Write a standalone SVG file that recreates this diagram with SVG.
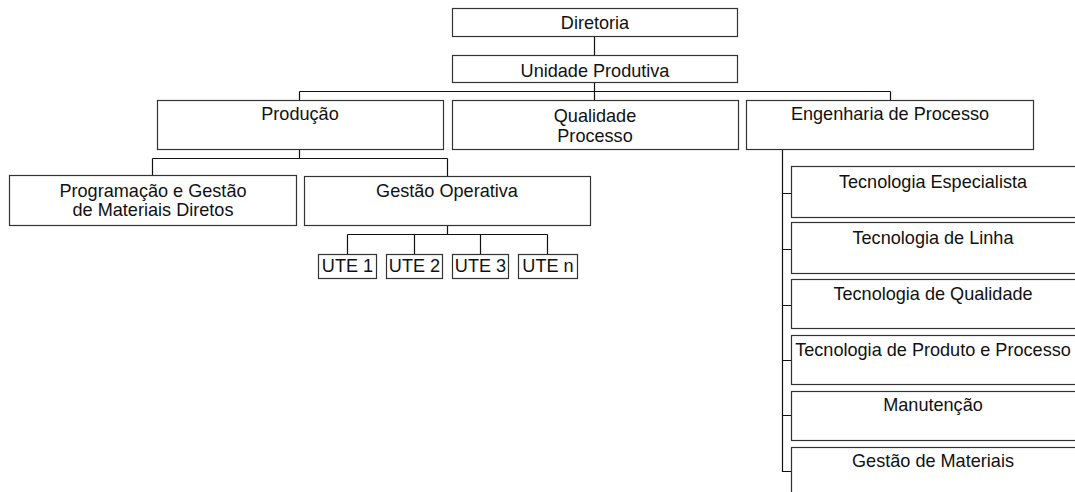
<svg xmlns="http://www.w3.org/2000/svg" width="1075" height="492" viewBox="0 0 1075 492">
<style>
.box{fill:#fff;stroke:#333;stroke-width:1.2}
.t{font-family:"Liberation Sans",Arial,sans-serif;font-size:18.1px;fill:#111;text-anchor:middle}
.c{fill:none;stroke:#111;stroke-width:1.2}
</style>
<rect width="1075" height="492" fill="#fff"/>
<g id="connectors">
<path class="c" d="M594.5 36V55M594.5 82V91.5M299.5 91.5H890.5M299.5 91.5V100M594.5 91.5V100M890.5 91.5V100"/>
<path class="c" d="M299.5 149V158.5M152.5 158.5H447.5M152.5 158.5V175M447.5 158.5V176"/>
<path class="c" d="M447.5 225V234.5M347.5 234.5H547.5M347.5 234.5V254M414.5 234.5V254M480.5 234.5V254M547.5 234.5V254"/>
<path class="c" d="M782.5 149V472M782.5 193.5H791M782.5 249.5H791M782.5 305.5H791M782.5 360.5H791M782.5 415.5H791M782.5 471.5H791"/>
</g>
<g id="diretoria"><rect class="box" x="452.5" y="8.5" width="285" height="28"/><text class="t" x="595" y="29">Diretoria</text></g>
<g id="unidade"><rect class="box" x="452.5" y="55.5" width="285" height="27"/><text class="t" x="595" y="77">Unidade Produtiva</text></g>
<g id="producao"><rect class="box" x="157.5" y="100.5" width="286" height="49"/><text class="t" x="300" y="120">Produção</text></g>
<g id="qualidade"><rect class="box" x="452.5" y="100.5" width="286" height="49"/><text class="t" x="595" y="121.5">Qualidade</text><text class="t" x="595" y="141.5">Processo</text></g>
<g id="engenharia"><rect class="box" x="746.5" y="100.5" width="287" height="49"/><text class="t" x="890" y="120">Engenharia de Processo</text></g>
<g id="programacao"><rect class="box" x="9.5" y="175.5" width="287" height="50"/><text class="t" x="153" y="196.5">Programação e Gestão</text><text class="t" x="153" y="215.5">de Materiais Diretos</text></g>
<g id="gestao-operativa"><rect class="box" x="304.5" y="176.5" width="286" height="49"/><text class="t" x="447" y="196.5">Gestão Operativa</text></g>
<g id="ute1"><rect class="box" x="318.5" y="254.5" width="58" height="24"/><text class="t" x="347.5" y="271.5">UTE 1</text></g>
<g id="ute2"><rect class="box" x="386.5" y="254.5" width="56" height="24"/><text class="t" x="414.5" y="271.5">UTE 2</text></g>
<g id="ute3"><rect class="box" x="452.5" y="254.5" width="56" height="24"/><text class="t" x="480.5" y="271.5">UTE 3</text></g>
<g id="uten"><rect class="box" x="518.5" y="254.5" width="59" height="24"/><text class="t" x="548" y="271.5">UTE n</text></g>
<g id="tec-especialista"><rect class="box" x="791.5" y="166.5" width="300" height="51"/><text class="t" x="933" y="187.5">Tecnologia Especialista</text></g>
<g id="tec-linha"><rect class="box" x="791.5" y="222.5" width="300" height="51"/><text class="t" x="933" y="243.5">Tecnologia de Linha</text></g>
<g id="tec-qualidade"><rect class="box" x="791.5" y="279.5" width="300" height="49"/><text class="t" x="933" y="300">Tecnologia de Qualidade</text></g>
<g id="tec-produto"><rect class="box" x="791.5" y="335.5" width="300" height="49"/><text class="t" x="933" y="355.5">Tecnologia de Produto e Processo</text></g>
<g id="manutencao"><rect class="box" x="791.5" y="391.5" width="300" height="49"/><text class="t" x="933" y="410.5">Manutenção</text></g>
<g id="gestao-materiais"><rect class="box" x="791.5" y="447.5" width="300" height="60"/><text class="t" x="933" y="466.5">Gestão de Materiais</text></g>
</svg>
